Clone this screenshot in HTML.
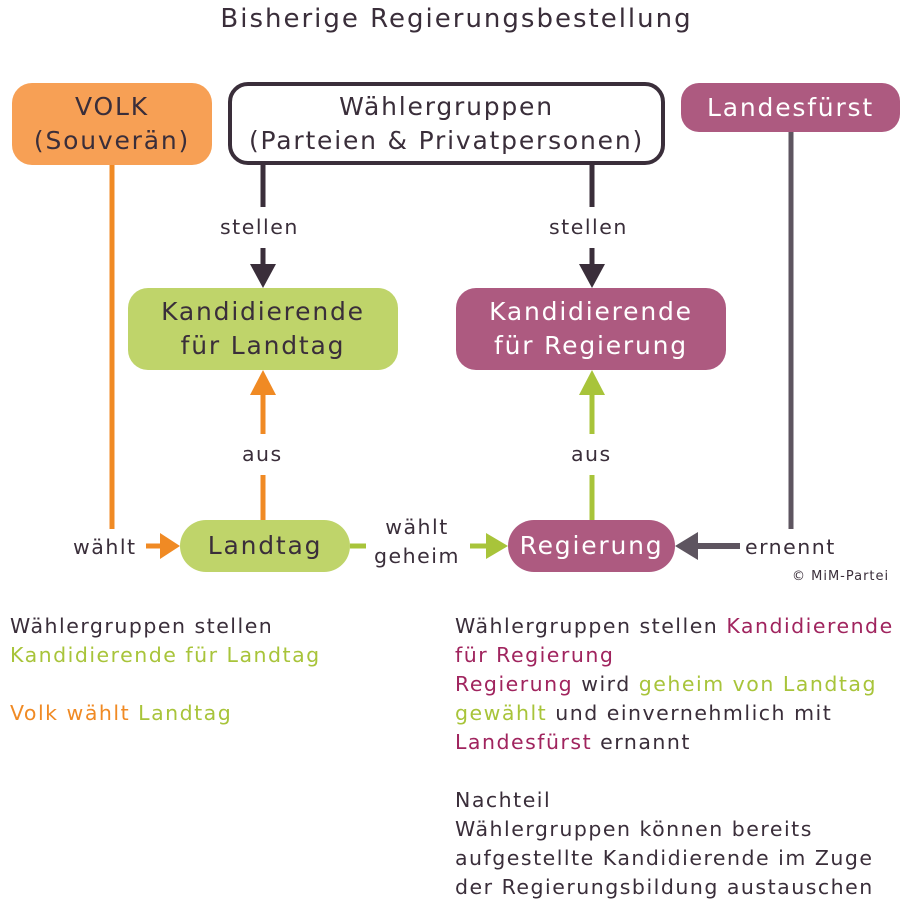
<!DOCTYPE html>
<html><head><meta charset="utf-8"><style>
body{margin:0;width:913px;height:916px;background:#fff;position:relative;font-family:"DejaVu Sans","Liberation Sans",sans-serif;color:#3a2e3a;overflow:hidden}
.a{position:absolute}
.box{position:absolute;display:flex;align-items:center;justify-content:center;text-align:center;font-size:25px;line-height:34px;letter-spacing:1.8px;white-space:nowrap}
.t{position:absolute;font-size:20.5px;line-height:29px;white-space:nowrap;letter-spacing:1.5px}
.w{background:#fff;padding:6px 0}
.o{color:#f08a24}.g{color:#a8c43a}.p{color:#a0245e}
</style></head><body>
<div class="t" style="left:0;width:913px;text-align:center;top:5px;font-size:26px;letter-spacing:2px">Bisherige Regierungsbestellung</div>

<svg class="a" style="left:0;top:0" width="913" height="916">
<g stroke-width="5" fill="none">
<line x1="112" y1="165" x2="112" y2="529" stroke="#f08a24"/>
<line x1="146" y1="546" x2="166" y2="546" stroke="#f08a24"/>
<line x1="263" y1="520" x2="263" y2="392" stroke="#f08a24"/>
<line x1="263" y1="165" x2="263" y2="266" stroke="#3a2e3a"/>
<line x1="592" y1="165" x2="592" y2="266" stroke="#3a2e3a"/>
<line x1="592" y1="520" x2="592" y2="392" stroke="#a8c43a"/>
<line x1="350" y1="546" x2="366" y2="546" stroke="#a8c43a"/>
<line x1="470" y1="546" x2="492" y2="546" stroke="#a8c43a"/>
<line x1="791" y1="132" x2="791" y2="529" stroke="#5e5560"/>
<line x1="740" y1="546" x2="696" y2="546" stroke="#5e5560" stroke-width="6"/>
</g>
<polygon points="160,533 180,546 160,559" fill="#f08a24"/>
<polygon points="250,395 263,370 276,395" fill="#f08a24"/>
<polygon points="250,264 276,264 263,288" fill="#3a2e3a"/>
<polygon points="579,264 605,264 592,288" fill="#3a2e3a"/>
<polygon points="579,395 592,370 605,395" fill="#a8c43a"/>
<polygon points="486,533 508,546 486,559" fill="#a8c43a"/>
<polygon points="698,532 675,546 698,560" fill="#5e5560"/>
</svg>

<div class="box" style="left:12px;top:83px;width:200px;height:82px;background:#f7a055;border-radius:20px">VOLK<br>(Souverän)</div>
<div class="box" style="left:228px;top:82px;width:429px;height:75px;border:4px solid #3a2e3a;border-radius:20px;background:#fff">Wählergruppen<br>(Parteien &amp; Privatpersonen)</div>
<div class="box" style="left:681px;top:83px;width:219px;height:49px;background:#ad5a80;border-radius:18px;color:#fff">Landesfürst</div>
<div class="box" style="left:128px;top:288px;width:270px;height:82px;background:#bfd46a;border-radius:20px">Kandidierende<br>für Landtag</div>
<div class="box" style="left:456px;top:288px;width:270px;height:82px;background:#ad5a80;border-radius:20px;color:#fff">Kandidierende<br>für Regierung</div>
<div class="box" style="left:180px;top:520px;width:170px;height:52px;background:#bfd46a;border-radius:26px">Landtag</div>
<div class="box" style="left:508px;top:520px;width:167px;height:52px;background:#ad5a80;border-radius:26px;color:#fff">Regierung</div>

<div class="t w" style="left:220px;top:207px">stellen</div>
<div class="t w" style="left:549px;top:207px">stellen</div>
<div class="t w" style="left:242px;top:434px">aus</div>
<div class="t w" style="left:571px;top:434px">aus</div>
<div class="t" style="left:73px;top:533px">wählt</div>
<div class="t" style="left:362px;top:513px;width:110px;text-align:center">wählt<br>geheim</div>
<div class="t" style="left:745px;top:533px">ernennt</div>
<div class="t" style="left:792px;top:568px;font-size:13px;line-height:18px;letter-spacing:1px">© MiM-Partei</div>

<div class="t" style="left:10px;top:612px">Wählergruppen stellen<br><span class="g">Kandidierende für Landtag</span><br><br><span class="o">Volk wählt</span> <span class="g">Landtag</span></div>
<div class="t" style="left:455px;top:612px">Wählergruppen stellen <span class="p">Kandidierende</span><br><span class="p">für Regierung</span><br><span class="p">Regierung</span> wird <span class="g">geheim von Landtag</span><br><span class="g">gewählt</span> und einvernehmlich mit<br><span class="p">Landesfürst</span> ernannt<br><br>Nachteil<br>Wählergruppen können bereits<br>aufgestellte Kandidierende im Zuge<br>der Regierungsbildung austauschen</div>
</body></html>
